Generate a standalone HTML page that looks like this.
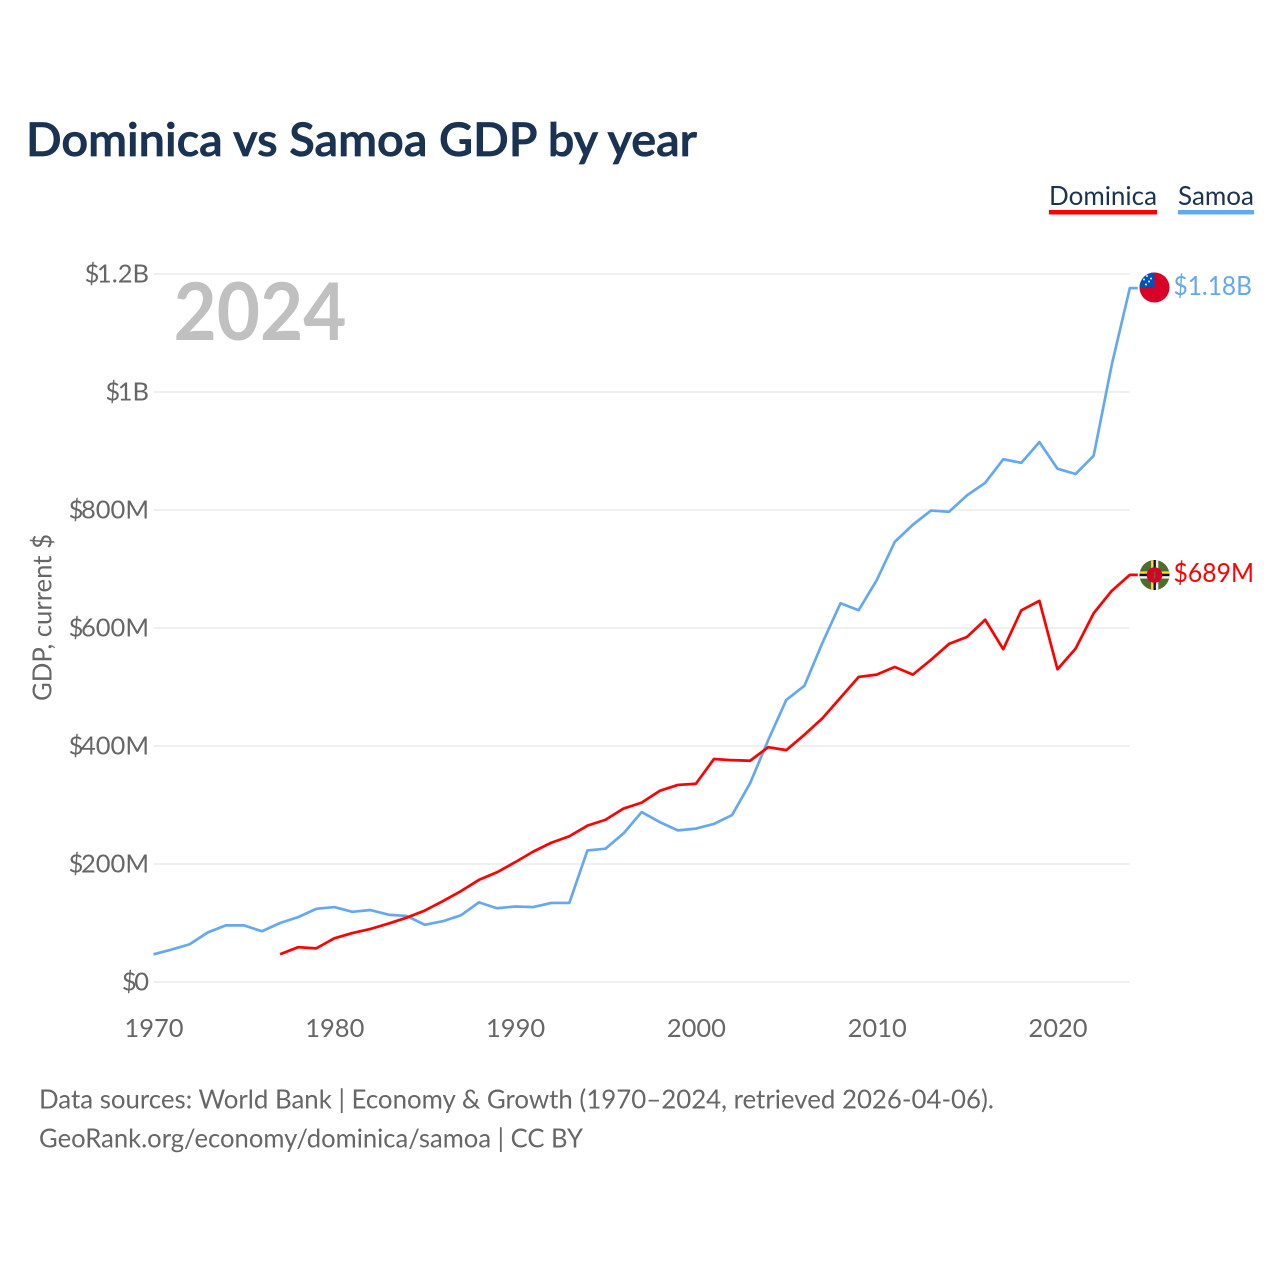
<!DOCTYPE html>
<html lang="en">
<head>
<meta charset="utf-8">
<title>Dominica vs Samoa GDP by year</title>
<style>
html,body{margin:0;padding:0;background:#fff;}
svg{display:block;}
text{font-family:"Lato","Carlito","Liberation Sans",sans-serif;}
</style>
</head>
<body>
<svg id="chart" xmlns="http://www.w3.org/2000/svg" width="1280" height="1280" viewBox="0 0 1280 1280">
  <rect x="0" y="0" width="1280" height="1280" fill="#ffffff"/>
  <text x="26" y="156" font-size="46" font-weight="600" fill="#1a3353" stroke="#1a3353" stroke-width="0.8" textLength="671" lengthAdjust="spacingAndGlyphs">Dominica vs Samoa GDP by year</text>

  <g>
    <g>
      <text x="1049" y="205" font-size="26" fill="#1a3353" textLength="108" lengthAdjust="spacingAndGlyphs">Dominica</text>
      <rect x="1049" y="210" width="108" height="4.5" fill="#ff0000"/>
    </g>
    <g>
      <text x="1178" y="205" font-size="26" fill="#1a3353" textLength="76" lengthAdjust="spacingAndGlyphs">Samoa</text>
      <rect x="1178" y="210" width="76" height="4.5" fill="#64a9ee"/>
    </g>
  </g>

  <g id="grid"></g>
  <g id="yticks"></g>
  <g id="xticks"></g>

  <text x="173.5" y="340" font-size="80" font-weight="700" fill="#c0c0c0" textLength="173" lengthAdjust="spacingAndGlyphs">2024</text>
  <text transform="translate(51.5,701) rotate(-90)" font-size="26" fill="#666666" textLength="167" lengthAdjust="spacingAndGlyphs">GDP, current $</text>

  <g id="series"></g>

  <defs>
    <clipPath id="clip-samoa"><circle id="clip-samoa-c" cx="1154.5" cy="287.5" r="15"/></clipPath>
    <clipPath id="clip-dominica"><circle id="clip-dominica-c" cx="1154.5" cy="575" r="15"/></clipPath>
  </defs>

  <g id="flag-samoa">
    <g clip-path="url(#clip-samoa)">
      <rect x="1139" y="272" width="31" height="31" fill="#d80027"/>
      <rect x="1139" y="272" width="15.5" height="15.5" fill="#0052b4"/>
      <circle cx="1147" cy="276" r="1" fill="#f0f0f0"/>
      <circle cx="1151" cy="278.5" r="1" fill="#f0f0f0"/>
      <circle cx="1144" cy="279.5" r="1" fill="#f0f0f0"/>
      <circle cx="1149" cy="281.5" r="1" fill="#f0f0f0"/>
      <circle cx="1146" cy="284.5" r="1" fill="#f0f0f0"/>
    </g>
  </g>

  <g id="flag-dominica">
    <g clip-path="url(#clip-dominica)">
      <rect x="1139" y="560" width="31" height="31" fill="#496e2d"/>
      <rect x="1139" y="571.4" width="31" height="2.4" fill="#ffda44"/>
      <rect x="1139" y="573.8" width="31" height="2.4" fill="#111111"/>
      <rect x="1139" y="576.2" width="31" height="2.4" fill="#f0f0f0"/>
      <rect x="1151.1" y="560" width="2.4" height="31" fill="#ffda44"/>
      <rect x="1153.5" y="560" width="2.4" height="31" fill="#111111"/>
      <rect x="1155.9" y="560" width="2.4" height="31" fill="#f0f0f0"/>
      <circle cx="1154.5" cy="575" r="7.8" fill="#d80027"/>
      <rect x="1153.7" y="571.5" width="1.8" height="7" fill="#496e2d"/>
    </g>
  </g>

  <text id="label-samoa" x="1173.5" y="295" font-size="26" fill="#64a9ee" textLength="78.5" lengthAdjust="spacingAndGlyphs">$1.18B</text>
  <text id="label-dominica" x="1173.5" y="582" font-size="26" fill="#ff0000" textLength="80.5" lengthAdjust="spacingAndGlyphs">$689M</text>

  <g>
    <text x="39" y="1108.5" font-size="26" fill="#666666" textLength="955" lengthAdjust="spacingAndGlyphs">Data sources: World Bank | Economy &amp; Growth (1970–2024, retrieved 2026-04-06).</text>
    <text x="39" y="1147.5" font-size="26" fill="#666666" textLength="544" lengthAdjust="spacingAndGlyphs">GeoRank.org/economy/dominica/samoa | CC BY</text>
  </g>
</svg>
<script>
var samoaStartYear = 1970;
var samoaValues = [47,55,64,84,96,96,86,100,110,124,127,119,122,114,112,97,103,113,135,125,128,127,134,134,223,226,252,288,271,257,260,268,283,337,410,478,502,575,642,630,681,746,775,799,797,825,846,886,880,915,870,861,892,1046,1176];
var dominicaStartYear = 1977;
var dominicaValues = [47,59,57,74,83,90,99,109,121,137,154,173,186,203,221,236,247,265,275,294,304,324,334,336,378,376,375,398,393,419,447,482,517,521,534,521,546,573,585,614,564,630,646,530,565,625,663,690];
var yTickValues = [0,200,400,600,800,1000,1200];
var yTickLabels = ["$0","$200M","$400M","$600M","$800M","$1B","$1.2B"];
var xTickYears = [1970,1980,1990,2000,2010,2020];

var NS = "http://www.w3.org/2000/svg";
function xScale(year){ return 153.5 + (year - 1970) * 18.08; }
function yScale(value){ return 982 - value * 0.59; }

var gridGroup = document.getElementById("grid");
var yGroup = document.getElementById("yticks");
var xGroup = document.getElementById("xticks");
var seriesGroup = document.getElementById("series");

yTickValues.forEach(function(v, i){
  var line = document.createElementNS(NS, "line");
  
  
  line.setAttribute("x1", xScale(1970));
  line.setAttribute("x2", xScale(2024));
  line.setAttribute("y1", yScale(v));
  line.setAttribute("y2", yScale(v));
  line.setAttribute("stroke", "#ececec");
  line.setAttribute("stroke-width", "1.5");
  gridGroup.appendChild(line);

  var t = document.createElementNS(NS, "text");
  
  
  t.setAttribute("x", 149);
  t.setAttribute("y", yScale(v) + 8.5);
  t.setAttribute("dx", "0 -2.5");
  t.setAttribute("text-anchor", "end");
  t.setAttribute("font-size", "25.5");
  t.setAttribute("fill", "#666666");
  t.textContent = yTickLabels[i];
  yGroup.appendChild(t);
});

xTickYears.forEach(function(year){
  var t = document.createElementNS(NS, "text");
  
  
  t.setAttribute("x", xScale(year) + 0.5);
  t.setAttribute("y", 1037);
  t.setAttribute("text-anchor", "middle");
  t.setAttribute("font-size", "25.5");
  t.setAttribute("fill", "#666666");
  t.textContent = String(year);
  xGroup.appendChild(t);
});

function linePoints(startYear, values){
  var pts = values.map(function(v, i){
    return xScale(startYear + i).toFixed(2) + "," + yScale(v).toFixed(2);
  });
  var last = values[values.length - 1];
  pts.push((xScale(startYear + values.length - 1) + 8).toFixed(2) + "," + yScale(last).toFixed(2));
  return pts.join(" ");
}

var samoaLine = document.createElementNS(NS, "polyline");


samoaLine.setAttribute("points", linePoints(samoaStartYear, samoaValues));
samoaLine.setAttribute("fill", "none");
samoaLine.setAttribute("stroke", "#64a9ee");
samoaLine.setAttribute("stroke-width", "2.7");
samoaLine.setAttribute("stroke-linejoin", "round");
seriesGroup.appendChild(samoaLine);

var dominicaLine = document.createElementNS(NS, "polyline");


dominicaLine.setAttribute("points", linePoints(dominicaStartYear, dominicaValues));
dominicaLine.setAttribute("fill", "none");
dominicaLine.setAttribute("stroke", "#ff0000");
dominicaLine.setAttribute("stroke-width", "2.7");
dominicaLine.setAttribute("stroke-linejoin", "round");
seriesGroup.appendChild(dominicaLine);
</script>
</body>
</html>
